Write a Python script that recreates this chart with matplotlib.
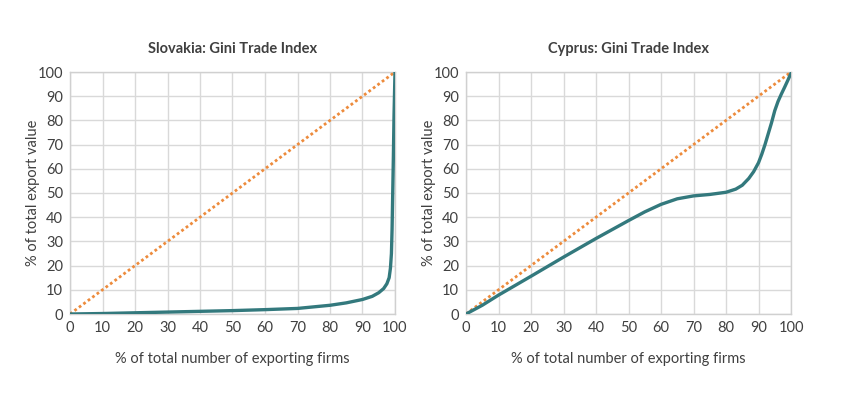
import matplotlib.pyplot as plt

plt.rcParams['font.family'] = ['Lato', 'DejaVu Sans']

# equality line
diag_x = [0, 100]
diag_y = [0, 100]

# Slovakia Lorenz curve
svk_x = [0, 10, 20, 30, 40, 50, 60, 70, 80, 85, 90, 93, 95, 96.5, 97.5, 98.2, 98.6, 98.9, 99.1, 99.3, 99.5, 99.7, 100]
svk_y = [0, 0.2, 0.5, 0.8, 1.1, 1.4, 1.8, 2.3, 3.6, 4.6, 6.0, 7.3, 8.8, 10.5, 12.5, 15, 19, 25, 35, 50, 65, 82, 100]

# Cyprus Lorenz curve
cyp_x = [0, 5, 10, 20, 30, 40, 50, 55, 60, 65, 70, 75, 80, 83, 85, 87, 88.5, 90, 91, 92, 93, 94, 95, 96, 97, 98, 99, 100]
cyp_y = [0, 3.6, 7.8, 15.6, 23.5, 31.2, 38.6, 42.2, 45.3, 47.6, 48.8, 49.4, 50.3, 51.6, 53.2, 56.0, 58.8, 62.5, 66, 70, 74.5, 79, 84, 87.8, 90.8, 93.6, 96.5, 99.5]

titles = ["Slovakia: Gini Trade Index", "Cyprus: Gini Trade Index"]
curves = [(svk_x, svk_y), (cyp_x, cyp_y)]

teal = "#33797d"
orange = "#ed8b3c"
text_col = "#404040"

fig = plt.figure(figsize=(8.5, 3.95), dpi=100)
lefts = [70 / 850, 466 / 850]
for left, title, (cx, cy) in zip(lefts, titles, curves):
    ax = fig.add_axes([left, 81 / 395, 325 / 850, 242 / 395])
    ax.plot(diag_x, diag_y, color=orange, lw=2, linestyle=(0, (1, 1)), zorder=3)
    ax.plot(cx, cy, color=teal, lw=2.4, zorder=4, solid_capstyle='round', solid_joinstyle='round')
    ax.set_xlim(0, 100)
    ax.set_ylim(0, 100)
    ax.set_xticks(range(0, 101, 10))
    ax.set_yticks(range(0, 101, 10))
    ax.grid(True, color="#d9d9d9", lw=1)
    ax.set_axisbelow(True)
    for s in ax.spines.values():
        s.set_color("#d0d0d0")
        s.set_linewidth(1)
    ax.tick_params(length=0, labelsize=10.5, colors=text_col, pad=5)
    ax.set_title(title, fontsize=10.5, fontweight='bold', color=text_col, pad=14)
    ax.set_xlabel("% of total number of exporting firms", fontsize=10.5, color=text_col, labelpad=12)
    ax.set_ylabel("% of total export value", fontsize=10.5, color=text_col, labelpad=-2)

fig.savefig("out.png", dpi=100)
